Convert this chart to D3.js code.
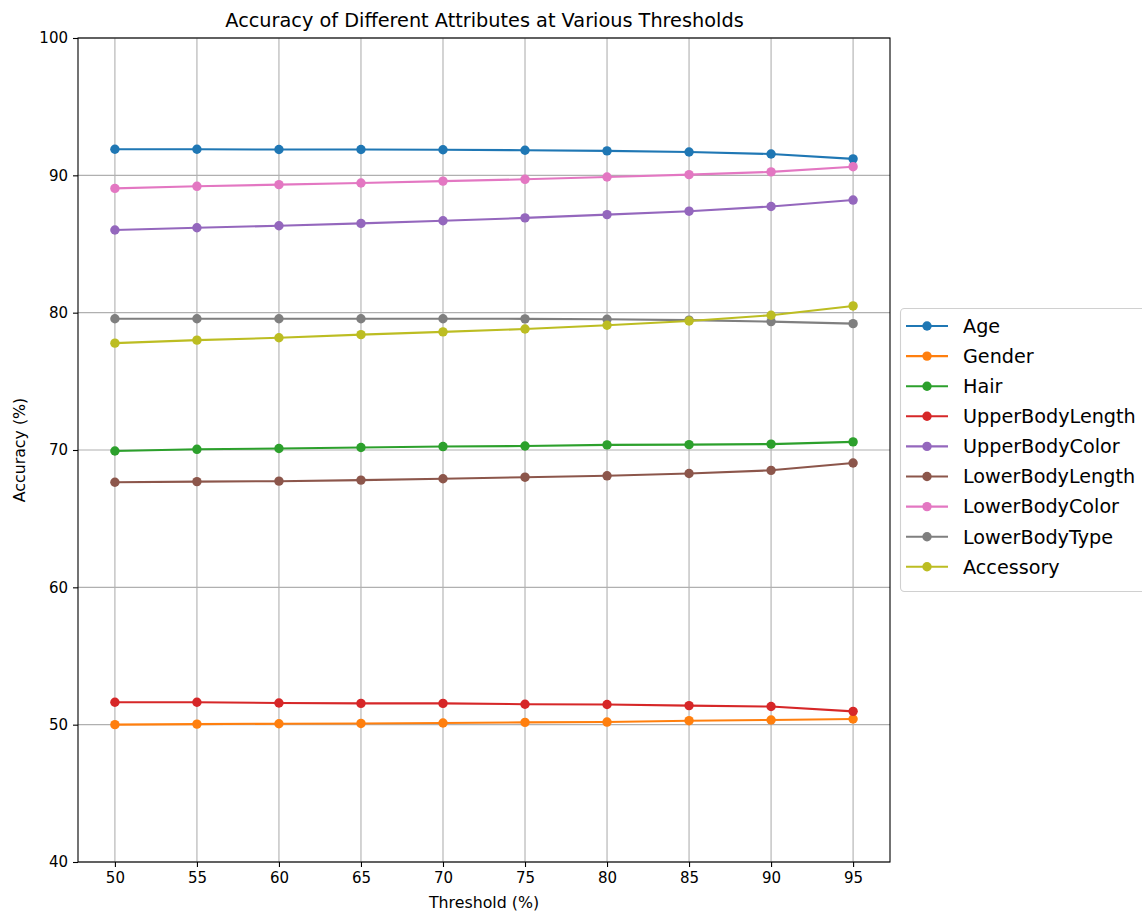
<!DOCTYPE html>
<html><head><meta charset="utf-8">
<script src="https://cdn.jsdelivr.net/npm/d3@7"></script>
<style>body{margin:0;background:#fff;} text{font-family:"DejaVu Sans",sans-serif;}</style>
</head><body>
<svg id="chart" width="1142" height="914"></svg>
<script>
const thresholds = [50,55,60,65,70,75,80,85,90,95];
const yTicks = [40,50,60,70,80,90,100];
const seriesNames = ["Age","Gender","Hair","UpperBodyLength","UpperBodyColor","LowerBodyLength","LowerBodyColor","LowerBodyType","Accessory"];
const colors = ["#1f77b4","#ff7f0e","#2ca02c","#d62728","#9467bd","#8c564b","#e377c2","#7f7f7f","#bcbd22"];
const age = [91.9,91.9,91.88,91.88,91.86,91.83,91.78,91.7,91.55,91.2];
const gender = [50.0,50.04,50.07,50.09,50.12,50.17,50.19,50.29,50.34,50.41];
const hair = [69.93,70.05,70.11,70.18,70.25,70.29,70.37,70.39,70.43,70.59];
const upperBodyLength = [51.63,51.63,51.58,51.55,51.55,51.49,51.47,51.39,51.32,50.97];
const upperBodyColor = [86.02,86.18,86.33,86.5,86.69,86.9,87.14,87.39,87.73,88.2];
const lowerBodyLength = [67.65,67.7,67.73,67.81,67.91,68.02,68.12,68.29,68.52,69.05];
const lowerBodyColor = [89.05,89.2,89.32,89.44,89.58,89.71,89.88,90.05,90.25,90.63];
const lowerBodyType = [79.56,79.56,79.56,79.56,79.56,79.55,79.52,79.46,79.35,79.2];
const accessory = [77.78,78.0,78.17,78.4,78.6,78.81,79.08,79.39,79.81,80.49];
const allSeries = [age,gender,hair,upperBodyLength,upperBodyColor,lowerBodyLength,lowerBodyColor,lowerBodyType,accessory];

const svg = d3.select("#chart");
const L=78, R=890, T=38, B=862;
const x = d3.scaleLinear().domain([47.75,97.25]).range([L,R]);
const y = d3.scaleLinear().domain([40,100]).range([B,T]);

// grid
const g = svg.append("g");
g.selectAll(".vg").data(thresholds).enter().append("line")
  .attr("x1",d=>x(d)).attr("x2",d=>x(d)).attr("y1",T).attr("y2",B)
  .attr("stroke","#b0b0b0").attr("stroke-width",1.1);
g.selectAll(".hg").data(yTicks).enter().append("line")
  .attr("x1",L).attr("x2",R).attr("y1",d=>y(d)).attr("y2",d=>y(d))
  .attr("stroke","#b0b0b0").attr("stroke-width",1.1);

// axes
const xAxis = svg.append("g").attr("transform",`translate(0,${B})`)
  .call(d3.axisBottom(x).tickValues(thresholds).tickSize(5).tickPadding(5).tickFormat(d3.format("d")));
const yAxis = svg.append("g").attr("transform",`translate(${L},0)`)
  .call(d3.axisLeft(y).tickValues(yTicks).tickSize(5).tickPadding(5).tickFormat(d3.format("d")));
[xAxis,yAxis].forEach(a=>{
  a.select(".domain").remove();
  a.selectAll("text").attr("font-size",15).attr("fill","#000").style("font-family","DejaVu Sans");
  a.selectAll("line").attr("stroke","#000").attr("stroke-width",1.1);
});
svg.append("rect").attr("x",L).attr("y",T).attr("width",R-L).attr("height",B-T)
  .attr("fill","none").attr("stroke","#000").attr("stroke-width",1.1);

// lines
const line = d3.line().x((d,i)=>x(thresholds[i])).y(d=>y(d));
allSeries.forEach((s,k)=>{
  svg.append("path").datum(s).attr("d",line).attr("fill","none")
    .attr("stroke",colors[k]).attr("stroke-width",2.1);
  svg.selectAll(null).data(s).enter().append("circle")
    .attr("cx",(d,i)=>x(thresholds[i])).attr("cy",d=>y(d)).attr("r",4.7)
    .attr("fill",colors[k]);
});

// labels
svg.append("text").attr("x",(L+R)/2+0.5).attr("y",27).attr("text-anchor","middle")
  .attr("font-size",19.3).text("Accuracy of Different Attributes at Various Thresholds");
svg.append("text").attr("x",(L+R)/2).attr("y",908).attr("text-anchor","middle")
  .attr("font-size",15.8).text("Threshold (%)");
svg.append("text").attr("transform",`translate(25,${(T+B)/2}) rotate(-90)`).attr("text-anchor","middle")
  .attr("font-size",15.8).text("Accuracy (%)");

// legend
const lg = svg.append("g");
lg.append("rect").attr("x",900.5).attr("y",308.5).attr("width",250).attr("height",283).attr("rx",4)
  .attr("fill","#fff").attr("fill-opacity",0.8).attr("stroke","#d0d0d0").attr("stroke-width",1.1);
seriesNames.forEach((n,k)=>{
  const yy = 326 + k*30.1;
  lg.append("line").attr("x1",906).attr("x2",948).attr("y1",yy).attr("y2",yy)
    .attr("stroke",colors[k]).attr("stroke-width",2.1);
  lg.append("circle").attr("cx",927).attr("cy",yy).attr("r",4.7).attr("fill",colors[k]);
  lg.append("text").attr("x",963).attr("y",yy+6.8).attr("font-size",19.2).attr("fill","#000").text(n);
});
</script>
</body></html>
